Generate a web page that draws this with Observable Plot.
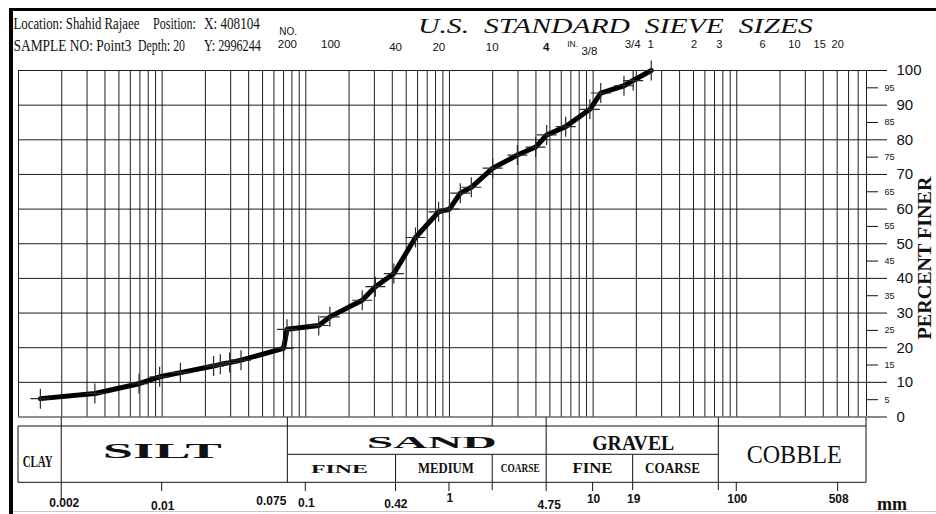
<!DOCTYPE html>
<html><head><meta charset="utf-8">
<script src="https://cdn.jsdelivr.net/npm/d3@7"></script>
<script src="https://cdn.jsdelivr.net/npm/@observablehq/plot@0.6"></script>
<style>
html,body{margin:0;padding:0;background:#fff;overflow:hidden;width:936px;height:514px}
#chart svg{display:block;overflow:hidden}
</style></head><body><div id="chart"></div>
<script>
// ---- Data: grain size (mm) vs percent finer ----
const grainSizeMm = [0.00142, 0.0034, 0.0069, 0.0096, 0.0134, 0.0228, 0.0254, 0.0295, 0.0354, 0.070, 0.074,
  0.123, 0.147, 0.247, 0.305, 0.41, 0.58, 0.84, 1.0, 1.19, 1.42, 2.0, 2.97, 3.98, 4.75, 6.44, 9.5, 11.3, 16.4, 19.0, 25.4];
const percentFiner = [5.3, 6.8, 9.6, 11.6, 12.8, 14.7, 15.2, 15.7, 16.4, 19.8, 25.3,
  26.4, 28.9, 33.7, 37.6, 41.4, 51.8, 59.2, 60.0, 64.6, 66.3, 71.8, 75.6, 77.9, 81.4, 83.8, 88.8, 93.5, 95.6, 97.1, 100];

// Top axis: U.S. standard sieve designations and their openings (mm)
const sieveLabels = ["200", "100", "40", "20", "10", "4", "3/8", "3/4", "1", "2", "3", "6", "10", "15", "20"];
const sieveMm = [0.075, 0.15, 0.425, 0.85, 2.0, 4.75, 9.5, 19.0, 25.4, 50.8, 76.2, 152.4, 254, 381, 508];

// Bottom axis tick values (mm)
const bottomTicks = [0.002, 0.01, 0.075, 0.1, 0.42, 1, 4.75, 10, 19, 100, 508];
const bottomTickLabels = ["0.002", "0.01", "0.075", "0.1", "0.42", "1", "4.75", "10", "19", "100", "508"];

// Soil classification boundaries (mm)
const mainBounds = [0.001, 0.002, 0.075, 4.75, 75, 800];
const mainNames = ["CLAY", "SILT", "SAND", "GRAVEL", "COBBLE"];
const subBounds = [0.075, 0.425, 2.0, 4.75, 19, 75];
const subNames = ["FINE", "MEDIUM", "COARSE", "", "FINE", "COARSE"];

// Percent axis ticks
const majorPct = [0, 10, 20, 30, 40, 50, 60, 70, 80, 90, 100];
const minorPct = [5, 15, 25, 35, 45, 55, 65, 75, 85, 95];

// Header text
const headerLine1 = ["Location: Shahid Rajaee", "Position:", "X: 408104"];
const headerLine2 = ["SAMPLE NO: Point3", "Depth: 20", "Y: 2996244"];

// ---- build ----
const points = grainSizeMm.map((mm, i) => ({mm, pct: percentFiner[i]}));
const gridX = [];
[0.001, 0.01, 0.1, 1, 10, 100].forEach(d => { for (let k = 1; k <= 9; k++) { const v = +(k * d).toPrecision(3); if (v <= 800) gridX.push(v); } });

const cross = {draw(ctx, size) { const r = Math.sqrt(size / Math.PI); ctx.moveTo(-r, 0); ctx.lineTo(r, 0); ctx.moveTo(0, -r); ctx.lineTo(0, r); }};
const SANS = "'Liberation Sans', Arial, sans-serif";
const SERIF = "'Liberation Serif', 'Times New Roman', serif";

const chart = Plot.plot({
  width: 936, height: 514,
  marginLeft: 18, marginRight: 70, marginTop: 70, marginBottom: 97.5,
  x: {type: "log", domain: [0.001, 800], axis: null},
  y: {domain: [0, 100]},
  style: {background: "white", color: "#111", overflow: "hidden"},
  marks: [
    Plot.ruleX(gridX, {stroke: "#1e1e1e", strokeWidth: 1}),
    Plot.ruleY(majorPct, {stroke: "#1e1e1e", strokeWidth: 1}),
    Plot.axisY(majorPct, {anchor: "right", tickSize: 20, tickPadding: 10, fontSize: 15, fontFamily: SANS, label: null, tickFormat: d => String(d)}),
    Plot.axisY(minorPct, {anchor: "right", tickSize: 11, tickPadding: 7, fontSize: 9, fontFamily: SANS, label: null, tickFormat: d => String(d)}),
    Plot.line(points, {x: "mm", y: "pct", stroke: "black", strokeWidth: 5, strokeLinejoin: "round", strokeLinecap: "round"}),
    Plot.dot(points, {x: "mm", y: "pct", r: 10, symbol: cross, fill: "none", stroke: "#2a2a2a", strokeWidth: 1.2})
  ]
});
document.getElementById("chart").appendChild(chart);

// ---- annotations placed with the plot's own x scale ----
const X = v => chart.scale("x").apply(v);
const svg = d3.select(chart);
const g = svg.append("g");
function line(x1, y1, x2, y2, w = 1, c = "#111") { g.append("line").attr("x1", x1).attr("y1", y1).attr("x2", x2).attr("y2", y2).attr("stroke", c).attr("stroke-width", w); }
function txt(x, y, s, o = {}) {
  const t = g.append("text").attr("x", 0).attr("y", 0).attr("text-anchor", o.anchor || "middle")
    .attr("fill", "#111").style("font-family", o.family || SANS).style("font-size", (o.size || 11) + "px")
    .style("font-weight", o.weight || "normal").style("font-style", o.italic ? "italic" : "normal").style("white-space", "pre").text(s);
  let sx = 1;
  if (o.len) { const n = t.node().getComputedTextLength(); if (n > 0) sx = o.len / n; }
  t.attr("transform", `translate(${x},${y})` + (o.rotate ? ` rotate(${o.rotate})` : "") + (sx !== 1 ? ` scale(${sx.toFixed(4)},1)` : ""));
  return t;
}

// outer sheet border
g.append("rect").attr("x", 9).attr("y", 8).attr("width", 927).attr("height", 3).attr("fill", "#000");
g.append("rect").attr("x", 9).attr("y", 8).attr("width", 4).attr("height", 506).attr("fill", "#000");
line(13, 511.5, 936, 511.5, 1, "#c8c8c8");

// header
const h1x = [13.5, 153, 204], h1len = [126, 43, 56];
const h2x = [13.5, 138, 204], h2len = [118, 47, 57];
headerLine1.forEach((s, i) => txt(h1x[i], 29, s, {anchor: "start", family: SERIF, size: 16, len: h1len[i]}));
headerLine2.forEach((s, i) => txt(h2x[i], 51, s, {anchor: "start", family: SERIF, size: 16, len: h2len[i]}));

// title
txt(418, 33, "U.S.  STANDARD  SIEVE  SIZES", {anchor: "start", family: SERIF, size: 20, italic: true, len: 395});

// sieve labels
txt(X(0.075) - 8, 35, "NO.", {anchor: "start", size: 10});
sieveLabels.forEach((s, i) => {
  const mm = sieveMm[i];
  let base = 47.5, size = 11;
  if (mm < 0.2) { base = 48; size = 11.5; } else if (mm < 5) { base = 51; size = 11.5; } else if (mm < 10) { base = 55; size = 11.5; } else if (mm < 30) { base = 48; size = 11.5; }
  txt(X(mm), base, s, {size, weight: s === "4" && mm < 5 ? "bold" : "normal"});
});
txt(X(4.75) + 21, 47, "IN.", {anchor: "start", size: 8.5});

// right-side axis title
txt(931, 258, "PERCENT FINER", {family: SERIF, size: 18, weight: "bold", len: 163, rotate: -90});

// classification table
const yT = 426, yM = 454.3, yB = 482.3;
line(X(0.001), yT, X(800), yT);
line(X(0.001), yB, X(800), yB);
line(X(0.075), yM, X(75), yM);
line(X(0.001), yT, X(0.001), yB);
line(X(0.002), 417, X(0.002), 500);
line(X(0.075), 417, X(0.075), yB);
line(X(4.75), 417, X(4.75), 491);
line(X(75), 417, X(75), 490);
line(X(800), 417, X(800), yB);
line(X(0.425), yM, X(0.425), 491);
line(X(2.0), 417, X(2.0), yT);
line(X(2.0), yM, X(2.0), 490);
line(X(19), yM, X(19), 490);
[0.01, 0.1, 1, 10, 100, 508].forEach(v => line(X(v), yB, X(v), 491));

const mid = (a, b) => (X(a) + X(b)) / 2;
// main classes
txt(mid(mainBounds[0], mainBounds[1]) - 2, 467, mainNames[0], {family: SERIF, size: 17, weight: "bold", len: 30});
txt(mid(mainBounds[1], mainBounds[2]) - 12, 458, mainNames[1], {family: SERIF, size: 21, weight: "bold", len: 119});
txt(mid(mainBounds[2], mainBounds[3]) + 15, 448, mainNames[2], {family: SERIF, size: 16, weight: "bold", len: 130});
txt(mid(mainBounds[3], mainBounds[4]) + 1, 450, mainNames[3], {family: SERIF, size: 22, weight: "bold", len: 82});
txt(mid(mainBounds[4], mainBounds[5]) + 2, 463, mainNames[4], {family: SERIF, size: 25, len: 95});
// sub classes
txt(mid(subBounds[0], subBounds[1]) - 2, 473, subNames[0], {family: SERIF, size: 12, weight: "bold", len: 57});
txt(mid(subBounds[1], subBounds[2]) + 2, 473, subNames[1], {family: SERIF, size: 15, weight: "bold", len: 56});
txt(mid(subBounds[2], subBounds[3]) + 1, 472, subNames[2], {family: SERIF, size: 12, weight: "bold", len: 39});
txt(mid(subBounds[3], subBounds[4]) + 3, 473, subNames[4], {family: SERIF, size: 15, weight: "bold", len: 40});
txt(mid(subBounds[4], subBounds[5]) - 3, 473, subNames[5], {family: SERIF, size: 14, weight: "bold", len: 55});

// bottom tick labels
const bottomBase = [507, 510, 505, 507, 508, 502, 509, 503, 503, 503, 503];
bottomTicks.forEach((v, i) => {
  const lab = bottomTickLabels[i];
  if (lab === "0.075") txt(X(v) - 1, bottomBase[i], lab, {anchor: "end", size: 12, weight: "bold"});
  else txt(X(v) + (i === 0 || i === 6 ? 3 : 1), bottomBase[i], lab, {size: 12, weight: "bold"});
});
txt(877, 510, "mm", {anchor: "start", family: SERIF, size: 18, weight: "bold"});
</script>
</body></html>
